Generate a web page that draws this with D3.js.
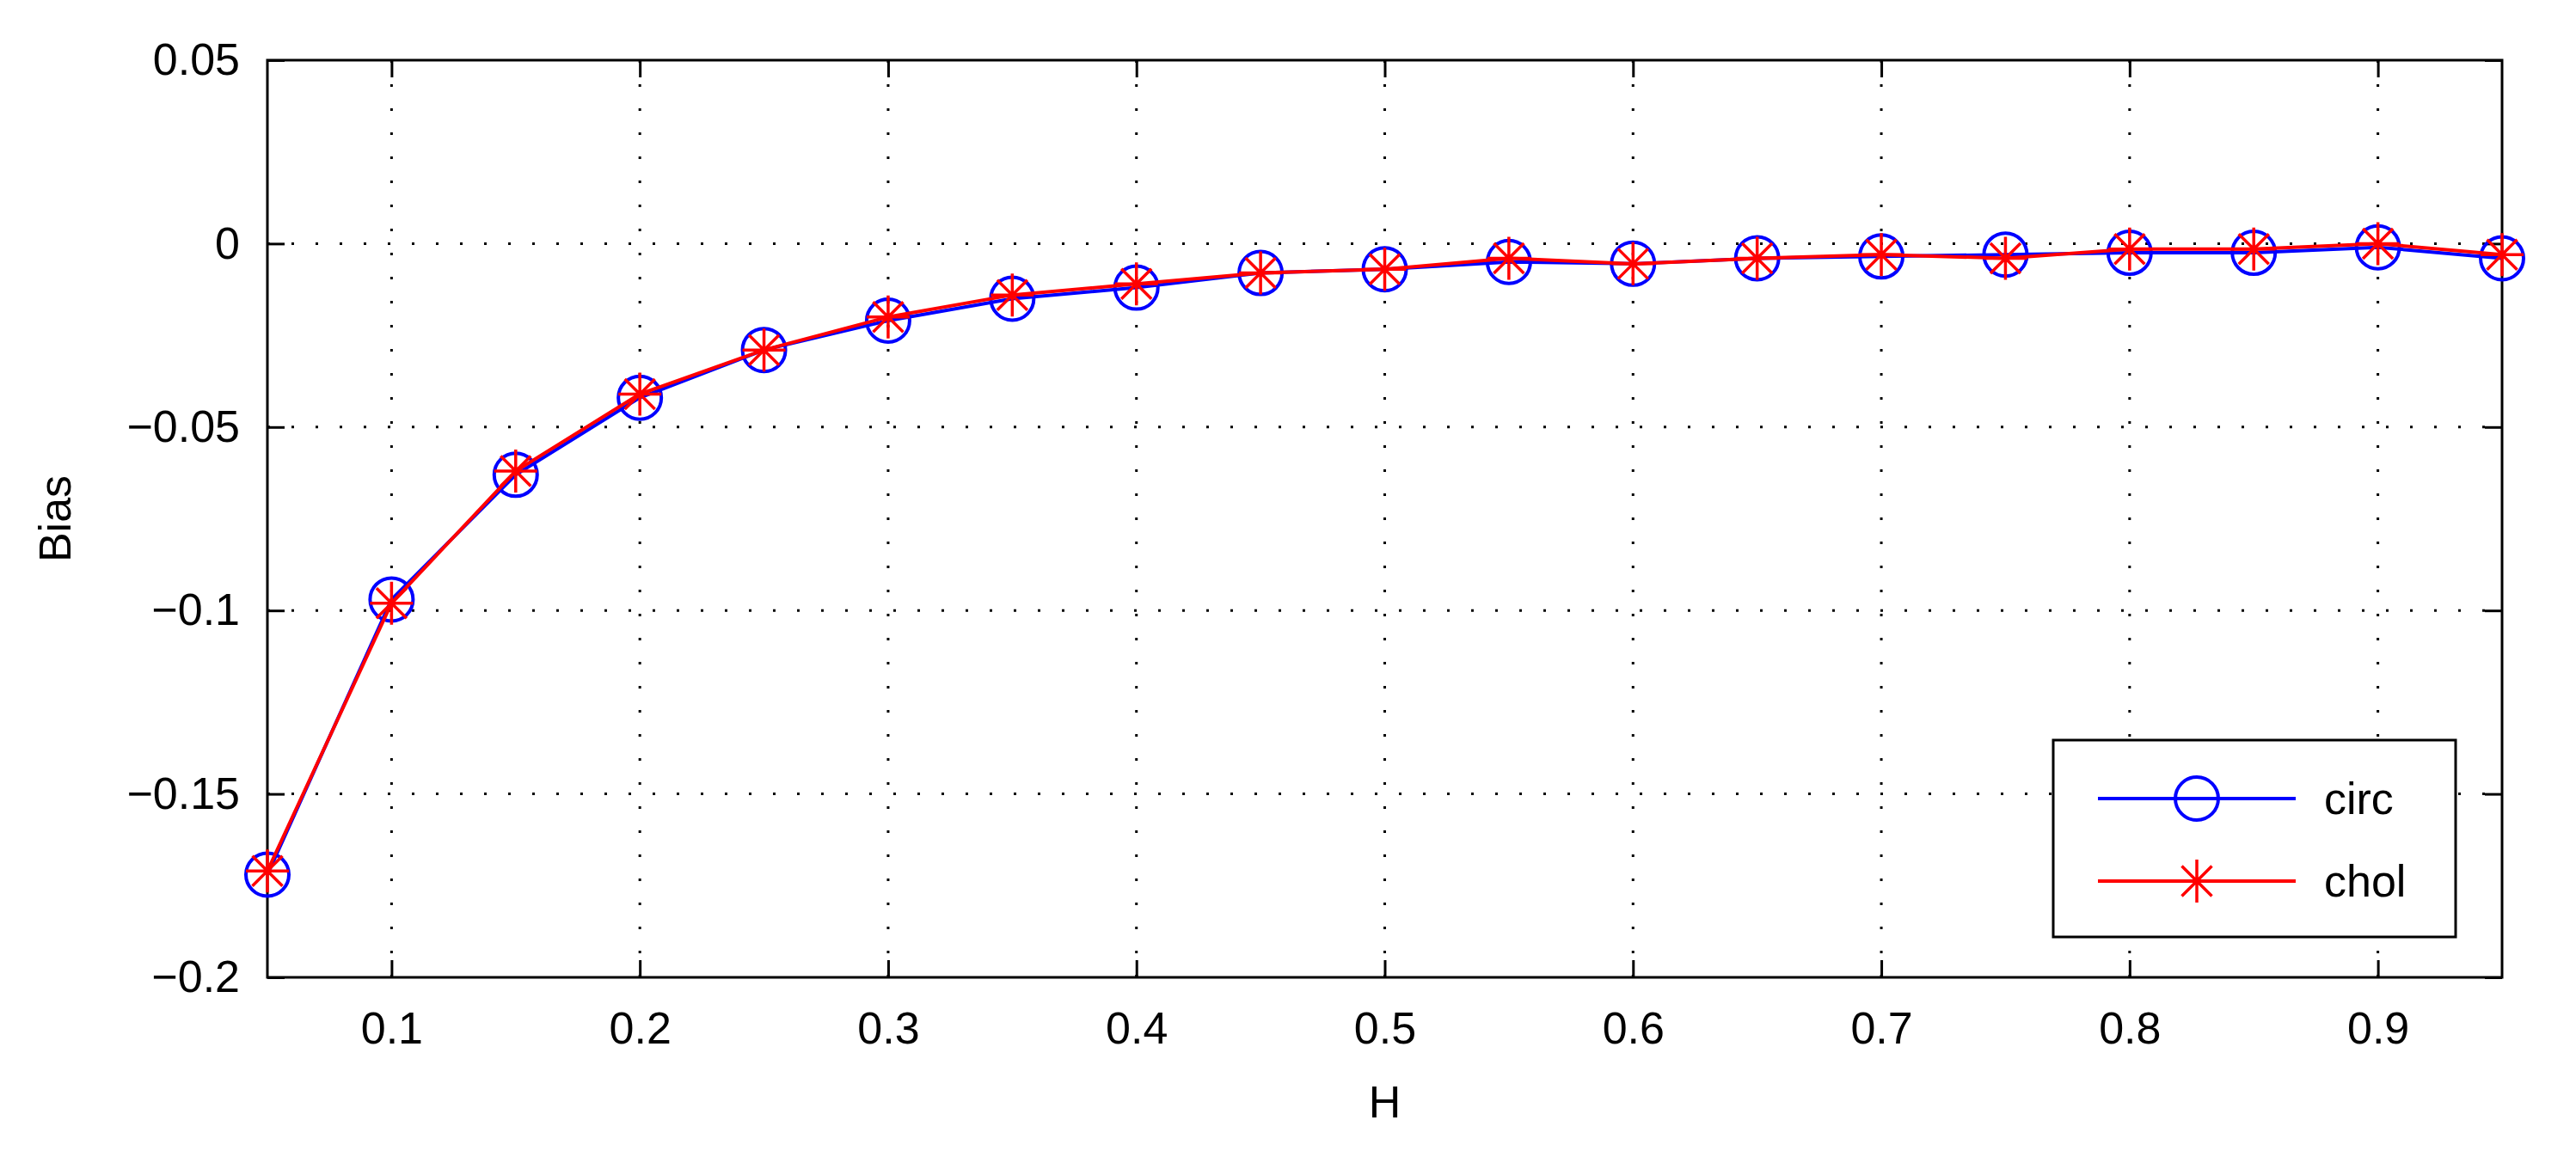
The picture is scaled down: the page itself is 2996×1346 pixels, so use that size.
<!DOCTYPE html><html><head><meta charset="utf-8"><script src="https://cdn.jsdelivr.net/npm/d3@7"></script>
<style>body{margin:0;background:#fff}</style></head><body><svg id="c" width="2996" height="1346"></svg>
<script>
const H=[0.05,0.1,0.15,0.2,0.25,0.3,0.35,0.4,0.45,0.5,0.55,0.6,0.65,0.7,0.75,0.8,0.85,0.9,0.95];
const circ=[-0.172,-0.097,-0.063,-0.042,-0.029,-0.021,-0.015,-0.012,-0.008,-0.007,-0.005,-0.0055,-0.004,-0.0035,-0.003,-0.0025,-0.0025,-0.001,-0.004];
const chol=[-0.171,-0.098,-0.062,-0.041,-0.029,-0.020,-0.014,-0.011,-0.008,-0.007,-0.004,-0.0055,-0.004,-0.003,-0.004,-0.0015,-0.0015,0,-0.003];
const xTicks=[0.1,0.2,0.3,0.4,0.5,0.6,0.7,0.8,0.9];
const yTicks=[-0.2,-0.15,-0.1,-0.05,0,0.05];
const L=311,R=2910,T=70,B=1137;
const svg=d3.select("#c");
const x=d3.scaleLinear().domain([0.05,0.95]).range([L,R]);
const y=d3.scaleLinear().domain([-0.2,0.05]).range([B,T]);
const font="'Liberation Sans',Arial,sans-serif";
const fmt=v=>v===0?"0":String(v).replace("-","\u2212");
svg.append("g").selectAll("line").data(xTicks).join("line").attr("x1",d=>x(d)).attr("x2",d=>x(d)).attr("y1",T).attr("y2",B).attr("stroke","#000").attr("stroke-width",3).attr("stroke-dasharray","3,25");
svg.append("g").selectAll("line").data(yTicks.slice(1,-1)).join("line").attr("y1",d=>y(d)).attr("y2",d=>y(d)).attr("x1",L).attr("x2",R).attr("stroke","#000").attr("stroke-width",3).attr("stroke-dasharray","3,25");
const ax=(g,a)=>g.call(a).call(g=>{g.select(".domain").remove();g.selectAll("line").attr("stroke-width",3);g.selectAll("text").attr("font-family",font).attr("font-size",52).attr("fill","#000");});
svg.append("g").attr("transform",`translate(0,${B})`).call(g=>ax(g,d3.axisBottom(x).tickValues(xTicks).tickSizeInner(-20).tickPadding(40).tickFormat(fmt)));
svg.append("g").attr("transform",`translate(0,${T})`).call(g=>ax(g,d3.axisTop(x).tickValues(xTicks).tickSizeInner(-20).tickFormat("")));
svg.append("g").attr("transform",`translate(${L},0)`).call(g=>ax(g,d3.axisLeft(y).tickValues(yTicks).tickSizeInner(-20).tickPadding(32).tickFormat(fmt)));
svg.append("g").attr("transform",`translate(${R},0)`).call(g=>ax(g,d3.axisRight(y).tickValues(yTicks).tickSizeInner(-20).tickFormat("")));
svg.append("rect").attr("x",L).attr("y",T).attr("width",R-L).attr("height",B-T).attr("fill","none").attr("stroke","#000").attr("stroke-width",3);
const line=d3.line().x((d,i)=>x(H[i])).y(d=>y(d));
function star(g,cx,cy,r){
  const p=`M${cx-r},${cy}H${cx+r}M${cx},${cy-r}V${cy+r}`+
   `M${cx-r*0.7},${cy-r*0.7}L${cx+r*0.7},${cy+r*0.7}M${cx-r*0.7},${cy+r*0.7}L${cx+r*0.7},${cy-r*0.7}`;
  g.append("path").attr("d",p).attr("stroke","red").attr("stroke-width",3.5).attr("fill","none");
}
svg.append("path").datum(circ).attr("d",line).attr("fill","none").attr("stroke","#0000ff").attr("stroke-width",4);
svg.append("g").selectAll("circle").data(circ).join("circle").attr("cx",(d,i)=>x(H[i])).attr("cy",d=>y(d)).attr("r",25).attr("fill","none").attr("stroke","#0000ff").attr("stroke-width",4);
svg.append("path").datum(chol).attr("d",line).attr("fill","none").attr("stroke","red").attr("stroke-width",4);
const sg=svg.append("g");chol.forEach((d,i)=>star(sg,x(H[i]),y(d),25));
svg.append("text").attr("x",(L+R)/2).attr("y",1300).attr("text-anchor","middle").attr("font-family",font).attr("font-size",52).text("H");
svg.append("text").attr("transform",`translate(82,${(T+B)/2}) rotate(-90)`).attr("text-anchor","middle").attr("font-family",font).attr("font-size",52).text("Bias");
const lg=svg.append("g");
lg.append("rect").attr("x",2388).attr("y",861).attr("width",468).attr("height",229).attr("fill","#fff").attr("stroke","#000").attr("stroke-width",3);
lg.append("line").attr("x1",2440).attr("x2",2670).attr("y1",929).attr("y2",929).attr("stroke","#0000ff").attr("stroke-width",4);
lg.append("circle").attr("cx",2555).attr("cy",929).attr("r",25).attr("fill","none").attr("stroke","#0000ff").attr("stroke-width",4);
lg.append("line").attr("x1",2440).attr("x2",2670).attr("y1",1025).attr("y2",1025).attr("stroke","red").attr("stroke-width",4);
star(lg,2555,1025,25);
lg.append("text").attr("x",2703).attr("y",947).attr("font-family",font).attr("font-size",52).text("circ");
lg.append("text").attr("x",2703).attr("y",1043).attr("font-family",font).attr("font-size",52).text("chol");
</script></body></html>
